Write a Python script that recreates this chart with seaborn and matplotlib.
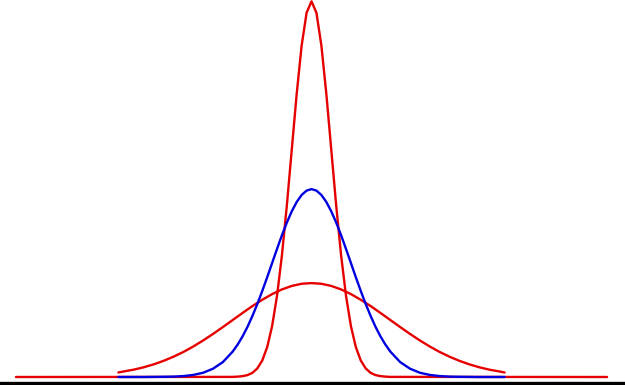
import matplotlib
matplotlib.use("Agg")
import matplotlib.pyplot as plt
import seaborn as sns
import pandas as pd

# Narrow curve (tall red)
narrow_x = [-15, -4, -3.75, -3.5, -3.25, -3, -2.75, -2.5, -2.25, -2, -1.75, -1.5, -1.25, -1, -0.75, -0.5, -0.25, 0,
            0.25, 0.5, 0.75, 1, 1.25, 1.5, 1.75, 2, 2.25, 2.5, 2.75, 3, 3.25, 3.5, 3.75, 4, 15]
narrow_y = [0.0, 0.0001, 0.0004, 0.0009, 0.0020, 0.0044, 0.0091, 0.0175, 0.0317, 0.0540, 0.0863, 0.1295, 0.1826,
            0.2420, 0.3011, 0.3521, 0.3867, 0.3989,
            0.3867, 0.3521, 0.3011, 0.2420, 0.1826, 0.1295, 0.0863, 0.0540, 0.0317, 0.0175, 0.0091, 0.0044,
            0.0020, 0.0009, 0.0004, 0.0001, 0.0]

# Medium curve (blue)
medium_x = [-9.8, -9, -8.5, -8, -7.5, -7, -6.5, -6, -5.5, -5, -4.5,
            -4, -3.75, -3.5, -3.25, -3, -2.75, -2.5, -2.25, -2, -1.75, -1.5, -1.25, -1, -0.75, -0.5, -0.25, 0,
            0.25, 0.5, 0.75, 1, 1.25, 1.5, 1.75, 2, 2.25, 2.5, 2.75, 3, 3.25, 3.5, 3.75, 4,
            4.5, 5, 5.5, 6, 6.5, 7, 7.5, 8, 8.5, 9, 9.8]
medium_y = [0.0, 0.0, 0.0, 0.0001, 0.0002, 0.0004, 0.0010, 0.0022, 0.0045, 0.0088, 0.0158,
            0.0270, 0.0344, 0.0431, 0.0532, 0.0648, 0.0775, 0.0913, 0.1059, 0.1210, 0.1360, 0.1506, 0.1641,
            0.1760, 0.1859, 0.1933, 0.1979, 0.1995,
            0.1979, 0.1933, 0.1859, 0.1760, 0.1641, 0.1506, 0.1360, 0.1210, 0.1059, 0.0913, 0.0775, 0.0648,
            0.0532, 0.0431, 0.0344, 0.0270,
            0.0158, 0.0088, 0.0045, 0.0022, 0.0010, 0.0004, 0.0002, 0.0001, 0.0, 0.0, 0.0]

# Wide curve (low red)
wide_x = [-9.8, -9.5, -9, -8.5, -8, -7.5, -7, -6.5, -6, -5.5, -5, -4.5, -4, -3.5, -3, -2.5, -2, -1.5, -1, -0.5, 0,
          0.5, 1, 1.5, 2, 2.5, 3, 3.5, 4, 4.5, 5, 5.5, 6, 6.5, 7, 7.5, 8, 8.5, 9, 9.5, 9.8]
wide_y = [0.0048, 0.0060, 0.0079, 0.0104, 0.0135, 0.0172, 0.0216, 0.0266, 0.0324, 0.0388, 0.0457, 0.0530,
          0.0605, 0.0680, 0.0753, 0.0820, 0.0880, 0.0930, 0.0967, 0.0990, 0.0997,
          0.0990, 0.0967, 0.0930, 0.0880, 0.0820, 0.0753, 0.0680, 0.0605, 0.0530, 0.0457, 0.0388, 0.0324,
          0.0266, 0.0216, 0.0172, 0.0135, 0.0104, 0.0079, 0.0060, 0.0048]

RED = "#e60000"
BLUE = "#0000e0"

sns.set_style("white")
fig = plt.figure(figsize=(6.25, 3.85), dpi=100)
ax = fig.add_axes([0, 0, 1, 1])

df_n = pd.DataFrame({"x": narrow_x, "y": narrow_y})
df_m = pd.DataFrame({"x": medium_x, "y": medium_y})
df_w = pd.DataFrame({"x": wide_x, "y": wide_y})

sns.lineplot(data=df_n, x="x", y="y", color=RED, linewidth=1.7, ax=ax, sort=False)
sns.lineplot(data=df_w, x="x", y="y", color=RED, linewidth=1.7, ax=ax, sort=False)
sns.lineplot(data=df_m, x="x", y="y", color=BLUE, linewidth=1.7, ax=ax, sort=False)

ax.axhline(-0.0064, color="black", linewidth=2.4)

ax.set_xlim(-15.81, 15.91)
ax.set_ylim(-0.0085, 0.4003)
ax.set_axis_off()

fig.savefig("out.png", dpi=100)
